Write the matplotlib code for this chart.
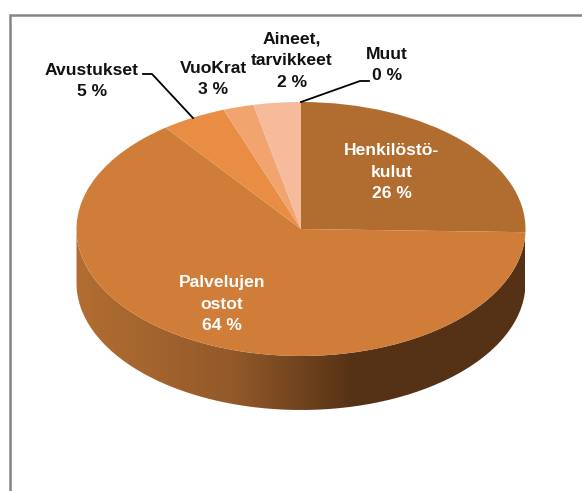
import numpy as np
import matplotlib
matplotlib.use('Agg')
import matplotlib.pyplot as plt
from matplotlib.colors import LinearSegmentedColormap
from matplotlib.lines import Line2D
from matplotlib.patches import PathPatch
from matplotlib.path import Path

plt.rcParams['font.family'] = ['Liberation Sans', 'DejaVu Sans']

# slice sizes as drawn in the picture, printed labels are rounded
names = ['Henkilöstö-\nkulut', 'Palvelujen\nostot', 'Avustukset', 'VuoKrat', 'Aineet,\ntarvikkeet', 'Muut']
printed = [26, 64, 5, 3, 2, 0]
shares = [25.4, 64.3, 4.7, 2.2, 3.4, 0.0]
colors = ['#B16C30', '#CF7D38', '#E88D43', '#F2A46F', '#F5BB9B', '#F8D0B8']

W, H = 582, 491
cx, cy, rx, ry = 301, 229, 224.5, 127
depth = 54 / ry

def px(x, y):
    # picture pixels to pie axes units
    return (x - cx) / rx, (cy - y) / ry

fig = plt.figure(figsize=(W / 100, H / 100), dpi=100)
ax = fig.add_axes([0, 0, 1, 1])

ax.pie(shares, colors=colors, startangle=90, counterclock=False, radius=1,
       wedgeprops={'linewidth': 0}, frame=True)
ax.set_aspect('auto')

# side of the pie
t = np.linspace(np.pi, 2 * np.pi, 200)
xs = np.concatenate([np.cos(t), np.cos(t[::-1])])
ys = np.concatenate([np.sin(t) - depth, np.sin(t[::-1])])
side = PathPatch(Path(np.column_stack([xs, ys])), fc='none', ec='none', transform=ax.transData)
ax.add_patch(side)
cmap = LinearSegmentedColormap.from_list('side', [(0, '#B26E32'), (0.35, '#93592A'),
                                                  (0.62, '#553215'), (1, '#553215')])
img = ax.imshow(np.linspace(0, 1, 256)[None, :], cmap=cmap, extent=(-1, 1, -1 - depth, 0),
                aspect='auto', zorder=0)
img.set_clip_path(side)

ax.set_xlim(px(0, 0)[0], px(W, 0)[0])
ax.set_ylim(px(0, H)[1], px(0, 0)[1])
ax.set_axis_off()

# leader lines
for pts in ([(143, 74), (152, 74), (193, 118)], [(369, 81), (360, 81), (301, 102)]):
    xy = np.array([px(*p) for p in pts])
    ax.plot(xy[:, 0], xy[:, 1], color='black', lw=1.3, solid_joinstyle='miter', zorder=5)

# labels
label_pos = [(392, 172), (222, 304), (92, 81), (213.5, 79), (292, 60.5), (387, 65)]
label_col = ['white', 'white', '#111111', '#111111', '#111111', '#111111']
for name, val, pos, col in zip(names, printed, label_pos, label_col):
    lx, ly = px(*pos)
    ax.text(lx, ly, f'{name}\n{val} %', color=col, fontsize=12.6, fontweight='bold',
            ha='center', va='center', linespacing=1.55, zorder=6)

# chart frame, only left and top fall inside the crop
fig.add_artist(Line2D([10 / W, 10 / W, 1], [0, 1 - 14.5 / H, 1 - 14.5 / H], color='#858585', lw=1.8,
                      solid_joinstyle='miter'))

fig.savefig('out.png', dpi=100)
